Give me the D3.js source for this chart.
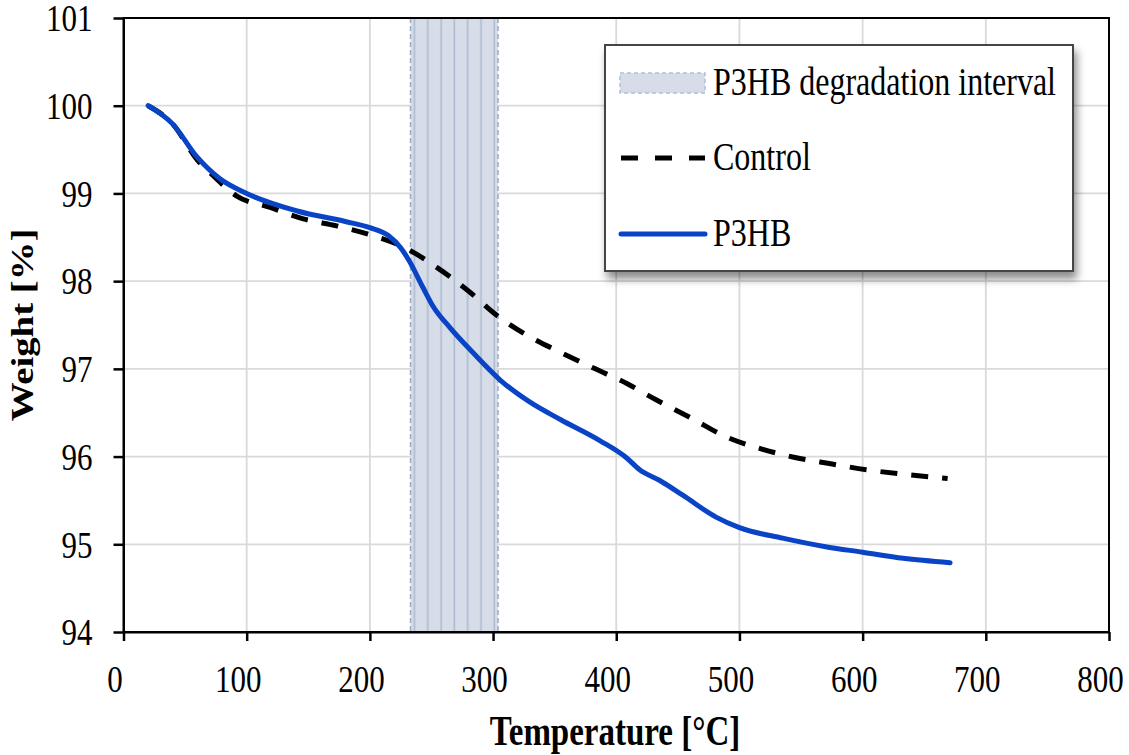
<!DOCTYPE html>
<html>
<head>
<meta charset="utf-8">
<script src="https://cdn.jsdelivr.net/npm/d3@7"></script>
<style>
  body { margin: 0; background: #fff; }
  text { font-family: "Liberation Serif", "Times New Roman", serif; fill: #000; }
</style>
</head>
<body>
<div id="chart"></div>
<script>
// data
var xTicks = [0, 100, 200, 300, 400, 500, 600, 700, 800];
var yTicks = [94, 95, 96, 97, 98, 99, 100, 101];

var p3hbTemp = [20, 40, 60, 78, 100, 141, 180, 200, 215, 225, 232, 243, 251, 265, 284, 306, 330, 355, 387, 408, 419, 435, 454, 481, 500, 535, 571, 600, 633, 671];
var p3hbWeight = [100.0, 99.79, 99.41, 99.17, 99.0, 98.80, 98.68, 98.61, 98.52, 98.38, 98.23, 97.93, 97.72, 97.47, 97.18, 96.87, 96.62, 96.42, 96.18, 95.99, 95.85, 95.73, 95.56, 95.31, 95.19, 95.07, 94.97, 94.91, 94.84, 94.79];

var controlTemp = [20, 40, 60, 70, 92, 119, 146, 173, 202, 230, 254, 279, 303, 328, 356, 383, 409, 432, 462, 490, 517, 545, 573, 603, 632, 669];
var controlWeight = [100.0, 99.79, 99.38, 99.24, 98.97, 98.84, 98.71, 98.63, 98.52, 98.37, 98.16, 97.9, 97.61, 97.38, 97.18, 97.0, 96.83, 96.65, 96.43, 96.22, 96.09, 95.99, 95.92, 95.85, 95.8, 95.75];

var interval = [233, 304];
var legendLabels = ["P3HB degradation interval", "Control", "P3HB"];

var svgWidth = 1129;
var svgHeight = 755;
var margin = { top: 18, right: 20, bottom: 123, left: 123.5 };
var width = svgWidth - margin.left - margin.right;
var height = svgHeight - margin.top - margin.bottom;
var stretch = 1.25; // text in the picture is drawn a bit tall

var svg = d3.select("#chart")
  .append("svg")
  .attr("width", svgWidth)
  .attr("height", svgHeight);

var defs = svg.append("defs");
var hatch = defs.append("pattern")
  .attr("id", "hatch")
  .attr("patternUnits", "userSpaceOnUse")
  .attr("width", 13.3)
  .attr("height", 20);
hatch.append("rect").attr("width", 13.3).attr("height", 20).attr("fill", "#d6dde8");
hatch.append("line")
  .attr("x1", 11.7).attr("x2", 11.7).attr("y1", 0).attr("y2", 20)
  .attr("stroke", "#aebbd0").attr("stroke-width", 1.6);

var shadow = defs.append("filter").attr("id", "shadow")
  .attr("x", "-10%").attr("y", "-10%").attr("width", "125%").attr("height", "130%");
shadow.append("feDropShadow")
  .attr("dx", 3).attr("dy", 7).attr("stdDeviation", 4)
  .attr("flood-color", "#000").attr("flood-opacity", 0.45);

var chartGroup = svg.append("g")
  .attr("transform", `translate(${margin.left}, ${margin.top})`);

var xScale = d3.scaleLinear().domain([0, 800]).range([0, width]);
var yScale = d3.scaleLinear().domain([94, 101]).range([height, 0]);

// gridlines
chartGroup.append("g")
  .selectAll("line")
  .data(xTicks.slice(1, -1))
  .join("line")
  .attr("x1", d => xScale(d)).attr("x2", d => xScale(d))
  .attr("y1", 0).attr("y2", height)
  .attr("stroke", "#d9d9d9").attr("stroke-width", 1.8);

chartGroup.append("g")
  .selectAll("line")
  .data(yTicks.slice(1, -1))
  .join("line")
  .attr("x1", 0).attr("x2", width)
  .attr("y1", d => yScale(d)).attr("y2", d => yScale(d))
  .attr("stroke", "#d9d9d9").attr("stroke-width", 1.8);

// degradation interval band
chartGroup.append("rect")
  .attr("x", xScale(interval[0]))
  .attr("y", 0)
  .attr("width", xScale(interval[1]) - xScale(interval[0]))
  .attr("height", height)
  .attr("fill", "url(#hatch)");

chartGroup.append("g")
  .selectAll("line")
  .data(interval)
  .join("line")
  .attr("x1", d => xScale(d)).attr("x2", d => xScale(d))
  .attr("y1", 0).attr("y2", height)
  .attr("stroke", "#9eaec6").attr("stroke-width", 1.6)
  .attr("stroke-dasharray", "5,3");

// curves
var controlData = controlTemp.map((t, i) => ({ t: t, w: controlWeight[i] }));
var p3hbData = p3hbTemp.map((t, i) => ({ t: t, w: p3hbWeight[i] }));

var line = d3.line()
  .x(d => xScale(d.t))
  .y(d => yScale(d.w))
  .curve(d3.curveMonotoneX);

chartGroup.append("path")
  .datum(controlData)
  .attr("d", line)
  .attr("fill", "none")
  .attr("stroke", "#000")
  .attr("stroke-width", 5)
  .attr("stroke-dasharray", "17,14");

chartGroup.append("path")
  .datum(p3hbData)
  .attr("d", line)
  .attr("fill", "none")
  .attr("stroke", "#0a44c6")
  .attr("stroke-width", 5)
  .attr("stroke-linecap", "round");

// frame
chartGroup.append("rect")
  .attr("width", width).attr("height", height)
  .attr("fill", "none").attr("stroke", "#000").attr("stroke-width", 2);

// axes
var bottomAxis = d3.axisBottom(xScale).tickValues(xTicks).tickSize(9).tickSizeOuter(0);
var leftAxis = d3.axisLeft(yScale).tickValues(yTicks).tickFormat(d3.format("d")).tickSize(10).tickSizeOuter(0);

var xAxisG = chartGroup.append("g")
  .attr("transform", `translate(0, ${height})`)
  .call(bottomAxis);
xAxisG.selectAll("text")
  .attr("y", 60 / stretch).attr("dy", 0).attr("dx", -9)
  .attr("transform", `scale(1, ${stretch})`);

var yAxisG = chartGroup.append("g").call(leftAxis);
yAxisG.selectAll("text")
  .attr("x", -31).attr("y", 0).attr("dy", "0.33em")
  .attr("transform", `scale(1, ${stretch})`);

[xAxisG, yAxisG].forEach(function(g) {
  g.select(".domain").attr("stroke", "#000").attr("stroke-width", 2);
  g.selectAll(".tick line").attr("stroke", "#000").attr("stroke-width", 2.5);
  g.selectAll("text")
    .style("font-family", "'Liberation Serif', 'Times New Roman', serif")
    .style("font-size", "31px")
    .attr("fill", "#000");
});

// axis titles
svg.append("text")
  .attr("transform", `translate(615, 745) scale(1, ${stretch})`)
  .attr("text-anchor", "middle")
  .style("font-size", "33px")
  .style("font-weight", "bold")
  .text("Temperature [°C]");

svg.append("text")
  .attr("transform", `translate(33, 325) rotate(-90) scale(${stretch}, 1)`)
  .attr("text-anchor", "middle")
  .style("font-size", "31px")
  .style("font-weight", "bold")
  .text("Weight [%]");

// legend
var legend = svg.append("g").attr("transform", "translate(605, 45)");
legend.append("rect")
  .attr("width", 468).attr("height", 226)
  .attr("fill", "#fff")
  .attr("stroke", "#444").attr("stroke-width", 2)
  .attr("filter", "url(#shadow)");

legend.append("rect")
  .attr("x", 15).attr("y", 28).attr("width", 85).attr("height", 20)
  .attr("fill", "#d6dde8")
  .attr("stroke", "#b3bfd2").attr("stroke-width", 1.5)
  .attr("stroke-dasharray", "4,3");

legend.append("line")
  .attr("x1", 16).attr("x2", 100).attr("y1", 113).attr("y2", 113)
  .attr("stroke", "#000").attr("stroke-width", 5)
  .attr("stroke-dasharray", "17,17");

legend.append("line")
  .attr("x1", 16).attr("x2", 100).attr("y1", 189).attr("y2", 189)
  .attr("stroke", "#0a44c6").attr("stroke-width", 5)
  .attr("stroke-linecap", "round");

var legendY = [50, 125, 201];
legend.selectAll("text.leg")
  .data(legendLabels)
  .join("text")
  .attr("class", "leg")
  .attr("transform", (d, i) => `translate(108, ${legendY[i]}) scale(1, ${stretch})`)
  .style("font-size", "32px")
  .text(d => d);
</script>
</body>
</html>
